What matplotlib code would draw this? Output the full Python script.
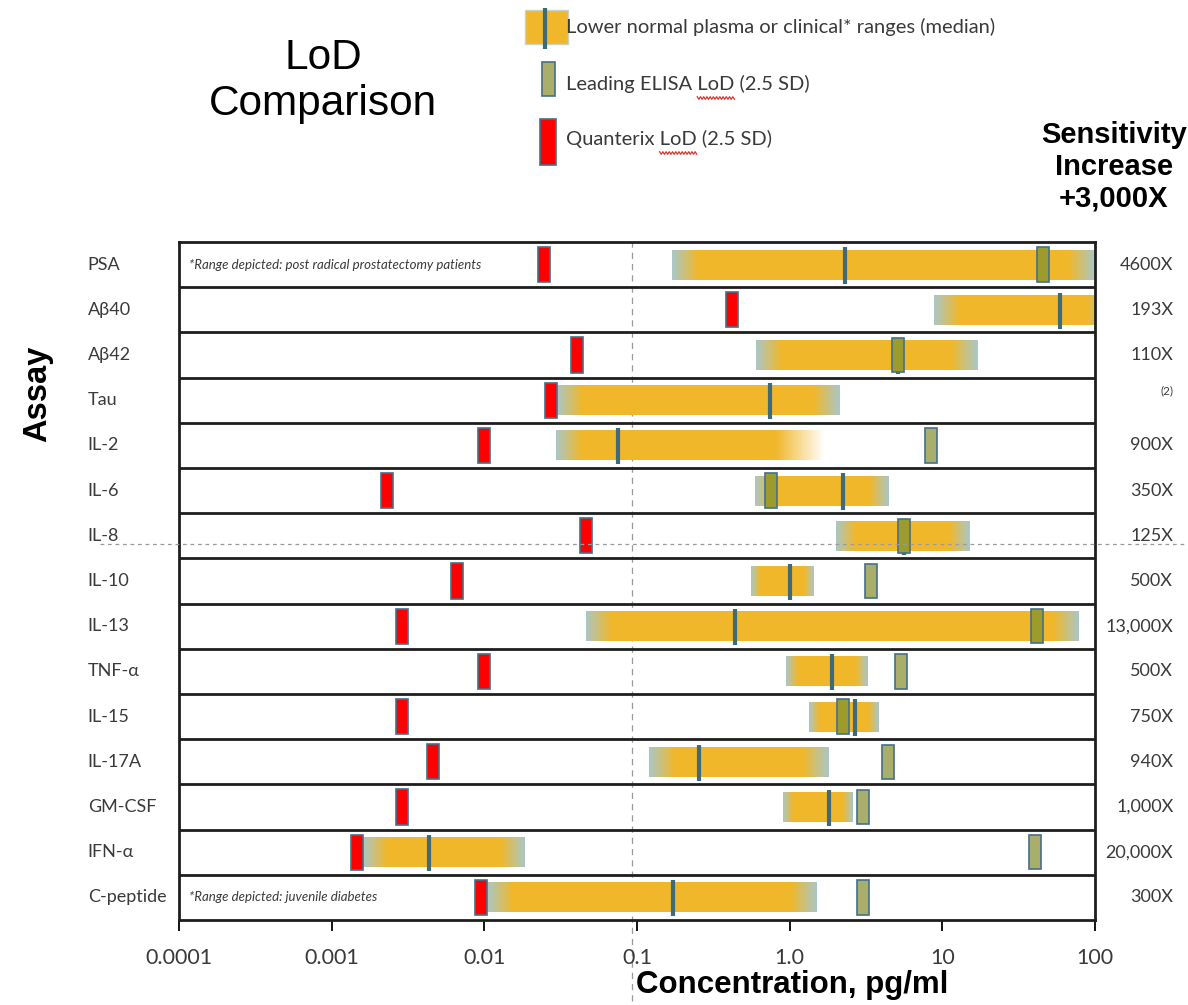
import numpy as np
import matplotlib.pyplot as plt
from matplotlib.colors import LinearSegmentedColormap
from matplotlib.patches import Rectangle

# ----------------------------------------------------------
# DATA (pg/ml)
# ----------------------------------------------------------
assays = ["PSA", "Aβ40", "Aβ42", "Tau", "IL-2", "IL-6", "IL-8", "IL-10",
          "IL-13", "TNF-α", "IL-15", "IL-17A", "GM-CSF", "IFN-α", "C-peptide"]
quanterix_lod = [0.0245, 0.418, 0.0404, 0.0273, 0.0099, 0.0023, 0.046, 0.0066,
                 0.00288, 0.0099, 0.00288, 0.0046, 0.0029, 0.00147, 0.0095]
elisa_lod = [45.5, None, 5.1, None, 8.4, 0.76, 5.6, 3.4,
             41.6, 5.35, 2.23, 4.4, 3.0, 40.4, 3.0]
range_low = [0.17, 8.8, 0.60, 0.0298, 0.0294, 0.59, 2.0, 0.557,
             0.046, 0.944, 1.34, 0.12, 0.90, 0.0016, 0.0104]
range_high = [100, 130, 17, 2.13, 1.7, 4.5, 15.1, 1.44,
              79, 3.25, 3.84, 1.81, 2.6, 0.0185, 1.51]
range_median = [2.3, 59, 5.1, 0.74, 0.075, 2.23, 5.6, 1.0,
                0.44, 1.89, 2.67, 0.254, 1.81, 0.00434, 0.172]
sensitivity = ["4600X", "193X", "110X", "", "900X", "350X", "125X", "500X",
               "13,000X", "500X", "750X", "940X", "1,000X", "20,000X", "300X"]
notes = {0: "*Range depicted: post radical prostatectomy patients",
         14: "*Range depicted: juvenile diabetes"}
fade_to_white = ["IL-2"]   # range that fades out instead of ending
x_ticks = [0.0001, 0.001, 0.01, 0.1, 1.0, 10, 100]
x_ticklabels = ["0.0001", "0.001", "0.01", "0.1", "1.0", "10", "100"]

ORANGE = "#f0b72a"
TEAL = "#a9c7c6"
MEDIAN = "#3f6a77"
RED = "#ff0000"
ELISA = "#a9af6a"
ELISA_DARK = "#9e9b2d"
EDGE = "#46708a"
TXT = "#3a3a3a"

narrow = ["Lato", "DejaVu Sans"]
arial = ["Liberation Sans", "DejaVu Sans"]

# teal -> orange -> white
grad = LinearSegmentedColormap.from_list("grad", [TEAL, ORANGE, "#ffffff"])

fig = plt.figure(figsize=(11.88, 10.05), dpi=100)
ax = fig.add_axes([179 / 1188, 85 / 1005, 916 / 1188, 678 / 1005])

n = len(assays)
half_w = 10 ** (6 / 152.7)   # marker half width as a factor on the log axis

for i, name in enumerate(assays):
    yc = i + 0.5
    lo, hi = range_low[i], range_high[i]
    # gradient range bar
    ulo, uhi = np.log10(lo), np.log10(hi)
    length = uhi - ulo
    fw = min(0.17, 0.15 * length)
    edges = np.linspace(ulo, uhi, 301)
    mids = (edges[:-1] + edges[1:]) / 2
    left = np.clip((mids - ulo) / fw, 0, 1) * 0.5
    if name in fade_to_white:
        fw2 = 0.32
        right = 0.5 + 0.5 * (1 - np.clip((uhi - mids) / fw2, 0, 1))
        vals = np.where(mids - ulo < fw, left, right)
    else:
        right = np.clip((uhi - mids) / fw, 0, 1) * 0.5
        vals = np.minimum(left, right)
    ax.pcolormesh(10 ** edges, [yc - 0.33, yc + 0.33], vals[None, :],
                  cmap=grad, vmin=0, vmax=1, shading="flat", zorder=2)
    ax.vlines(range_median[i], yc - 0.38, yc + 0.42, color=MEDIAN, lw=3, zorder=3)

    # ELISA LoD
    e = elisa_lod[i]
    if e is not None:
        fc = ELISA_DARK if lo <= e <= hi else ELISA
        ax.barh(yc, e * half_w - e / half_w, left=e / half_w, height=0.76,
                color=fc, edgecolor=EDGE, lw=1.2, zorder=4)

    # Quanterix LoD
    q = quanterix_lod[i]
    ax.barh(yc, q * half_w - q / half_w, left=q / half_w, height=0.78,
            color=RED, edgecolor=EDGE, lw=1.2, zorder=5)

    # row label and sensitivity
    ax.text(-0.0995, yc, name, transform=ax.get_yaxis_transform(), ha="left",
            va="center", fontsize=13, color=TXT, family=narrow)
    ax.text(1.0855, yc, sensitivity[i], transform=ax.get_yaxis_transform(),
            ha="right", va="center", fontsize=13, color=TXT, family=narrow)
    if i in notes:
        ax.text(0.011, yc, notes[i], transform=ax.get_yaxis_transform(),
                ha="left", va="center", fontsize=9.5, style="italic",
                color=TXT, family=narrow)

ax.text(1.0855, 3.3, "(2)", transform=ax.get_yaxis_transform(), ha="right",
        va="center", fontsize=8.5, color=TXT, family=narrow)

for b in range(1, n):
    ax.axhline(b, color="#1e1e1e", lw=2, zorder=6)

ax.set_xscale("log")
ax.set_xlim(1e-4, 100)
ax.set_ylim(n, 0)
ax.set_yticks([])
ax.set_xticks(x_ticks)
ax.set_xticklabels(x_ticklabels, family=narrow, fontsize=15.5, color=TXT)
ax.minorticks_off()
ax.tick_params(axis="x", direction="out", length=8, width=1.3, pad=12)
for s in ax.spines.values():
    s.set_linewidth(2)
    s.set_color("#1e1e1e")

# dashed guides
ax.axvline(0.093, ymin=-0.12, ymax=1, color="#9a9a9a", lw=0.9, ls=(0, (5, 4)),
           clip_on=False, zorder=1)
fig.add_artist(plt.Line2D([100 / 1188, 1.0], [1 - 544 / 1005] * 2,
                          color="#9a9a9a", lw=0.9, ls=(0, (3, 3))))

# titles
fig.text(323 / 1188, 1 - 81 / 1005, "LoD\nComparison", ha="center", va="center",
         fontsize=30.5, family=arial, linespacing=1.2, color="black")
fig.text(1114 / 1188, 1 - 167 / 1005, "Sensitivity\nIncrease\n+3,000X",
         ha="center", va="center", fontsize=21, weight="bold", family=arial,
         linespacing=1.18)
fig.text(38 / 1188, 1 - 394 / 1005, "Assay", rotation=90, ha="center",
         va="center", fontsize=23.5, weight="bold", family=arial)
fig.text(792 / 1188, 1 - 985 / 1005, "Concentration, pg/ml", ha="center",
         va="center", fontsize=22.5, weight="bold", family=arial)

# legend drawn in pixel coords
lg = fig.add_axes([0, 0, 1, 1], zorder=10)
lg.set_xlim(0, 1188)
lg.set_ylim(1005, 0)
lg.axis("off")
lg.add_patch(Rectangle((525, 10), 43, 34, facecolor=ORANGE, edgecolor="#c9d3c2", lw=1))
lg.vlines(545, 8, 49, color=MEDIAN, lw=3)
lg.add_patch(Rectangle((542, 62), 13, 34, facecolor=ELISA, edgecolor=EDGE, lw=1.2))
lg.add_patch(Rectangle((540, 119), 16, 46, facecolor=RED, edgecolor=EDGE, lw=1.2))
legend_labels = ["Lower normal plasma or clinical* ranges (median)",
                 "Leading ELISA LoD (2.5 SD)", "Quanterix LoD (2.5 SD)"]
legend_y = [27, 84, 139]
renderer = fig.canvas.get_renderer()
for lab, yy in zip(legend_labels, legend_y):
    t = lg.text(566, yy, lab, ha="left", va="center", fontsize=14.5, color=TXT,
                family=narrow)
    # red spell-check squiggle under "LoD"
    k = lab.find("LoD")
    if k >= 0:
        probe = lg.text(566, yy, lab[:k], fontsize=14.5, family=narrow)
        x0 = probe.get_window_extent(renderer).width
        probe.set_text(lab[:k + 3])
        x1 = probe.get_window_extent(renderer).width
        probe.remove()
        xs = np.linspace(566 + x0, 566 + x1, 24)
        ys = yy + 14 + 1.3 * np.where(np.arange(24) % 2, 1, -1)
        lg.plot(xs, ys, color="#e03030", lw=0.9)

fig.savefig("out.png", dpi=100)
